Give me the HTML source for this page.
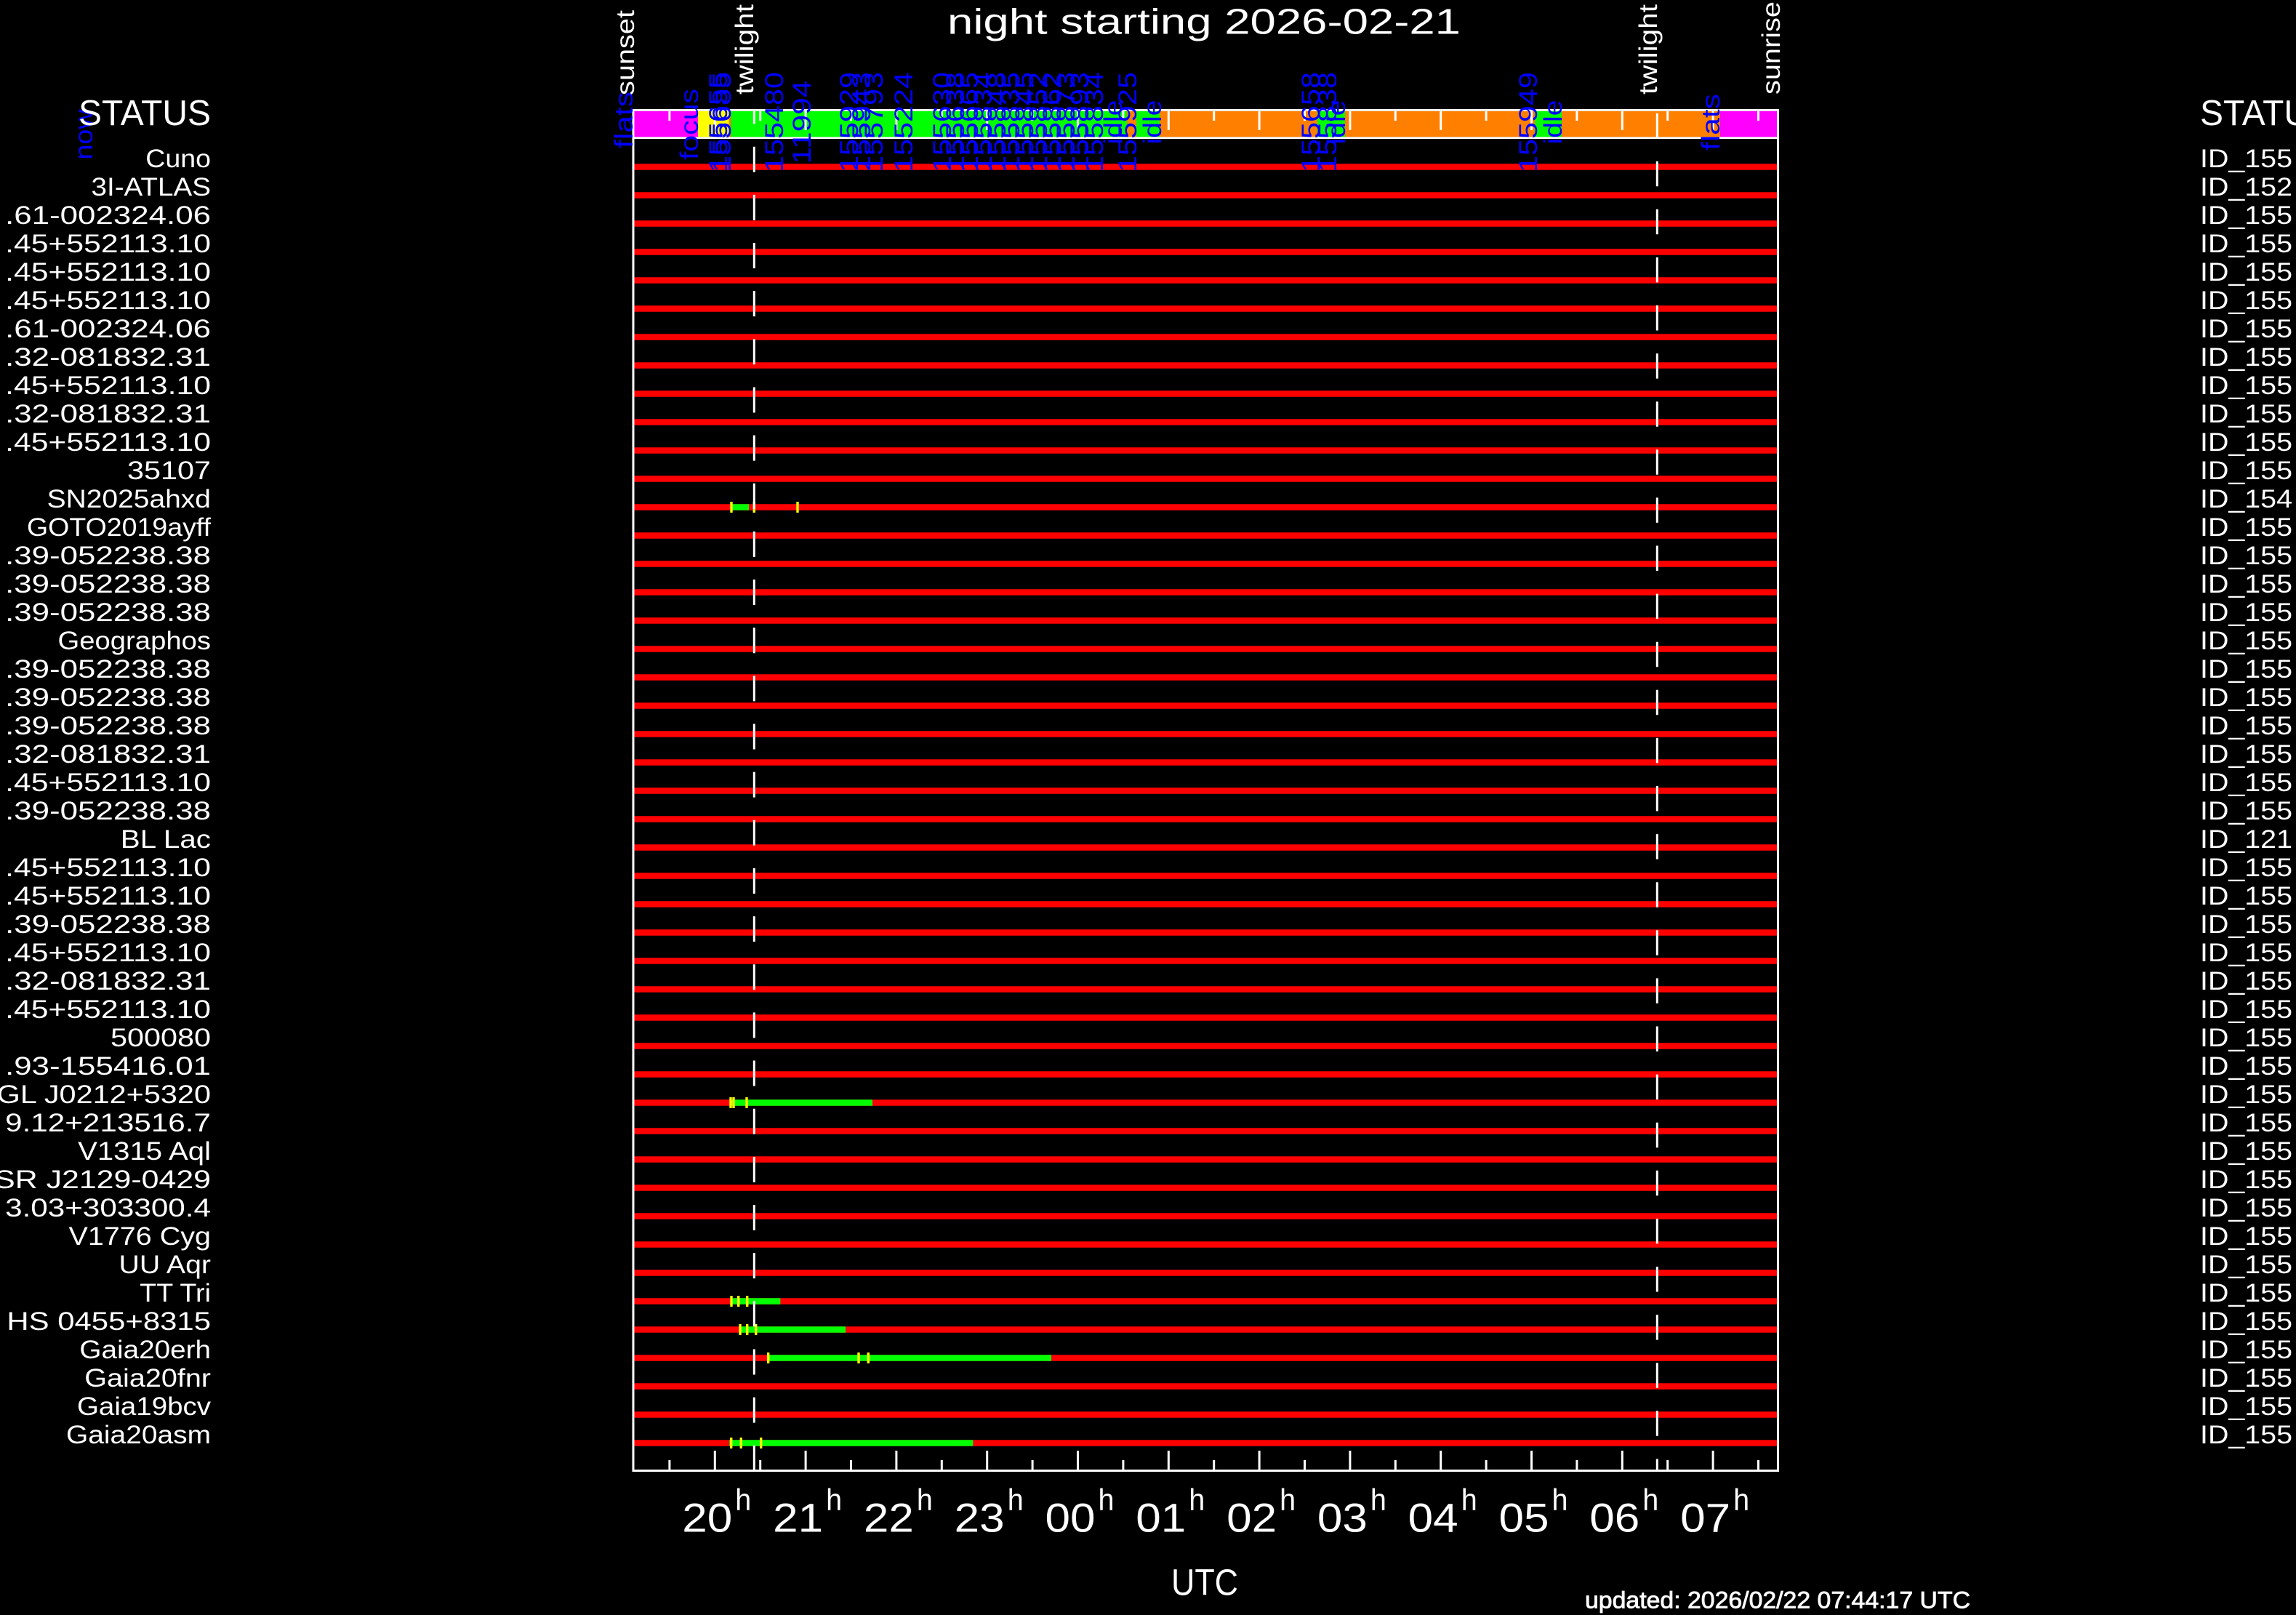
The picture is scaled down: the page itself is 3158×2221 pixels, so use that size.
<!DOCTYPE html>
<html><head><meta charset="utf-8"><style>
html,body{margin:0;padding:0;background:#000;}
svg{display:block;}
text{font-family:"Liberation Sans",sans-serif;}
</style></head><body>
<svg width="3158" height="2221" viewBox="0 0 3158 2221" xmlns="http://www.w3.org/2000/svg">
<defs>
<clipPath id="plot"><rect x="872" y="153" width="1572" height="1868"/></clipPath>
</defs>
<rect x="0" y="0" width="3158" height="2221" fill="#000"/>

<!-- status bar fills -->
<g>
<rect x="872" y="152.7" width="88" height="35.6" fill="#ff00ff"/>
<rect x="960" y="152.7" width="42.7" height="35.6" fill="#ffff00"/>
<rect x="1002.7" y="152.7" width="2.6" height="35.6" fill="#ff8000"/>
<rect x="1005.3" y="152.7" width="544.7" height="35.6" fill="#00ff00"/>
<rect x="1550" y="152.7" width="13" height="35.6" fill="#ff8000"/>
<rect x="1563" y="152.7" width="32" height="35.6" fill="#00ff00"/>
<rect x="1595" y="152.7" width="217" height="35.6" fill="#ff8000"/>
<rect x="1812" y="152.7" width="38" height="35.6" fill="#00ff00"/>
<rect x="1850" y="152.7" width="261" height="35.6" fill="#ff8000"/>
<rect x="2111" y="152.7" width="37" height="35.6" fill="#00ff00"/>
<rect x="2148" y="152.7" width="218" height="35.6" fill="#ff8000"/>
<rect x="2366" y="152.7" width="78" height="35.6" fill="#ff00ff"/>
</g>

<!-- red rows -->
<g fill="#ff0000">
<rect x="872" y="225.25" width="1572" height="8.5"/>
<rect x="872" y="264.25" width="1572" height="8.5"/>
<rect x="872" y="303.25" width="1572" height="8.5"/>
<rect x="872" y="342.25" width="1572" height="8.5"/>
<rect x="872" y="381.25" width="1572" height="8.5"/>
<rect x="872" y="420.25" width="1572" height="8.5"/>
<rect x="872" y="459.25" width="1572" height="8.5"/>
<rect x="872" y="498.25" width="1572" height="8.5"/>
<rect x="872" y="537.25" width="1572" height="8.5"/>
<rect x="872" y="576.25" width="1572" height="8.5"/>
<rect x="872" y="615.25" width="1572" height="8.5"/>
<rect x="872" y="654.25" width="1572" height="8.5"/>
<rect x="872" y="693.25" width="1572" height="8.5"/>
<rect x="872" y="732.25" width="1572" height="8.5"/>
<rect x="872" y="771.25" width="1572" height="8.5"/>
<rect x="872" y="810.25" width="1572" height="8.5"/>
<rect x="872" y="849.25" width="1572" height="8.5"/>
<rect x="872" y="888.25" width="1572" height="8.5"/>
<rect x="872" y="927.25" width="1572" height="8.5"/>
<rect x="872" y="966.25" width="1572" height="8.5"/>
<rect x="872" y="1005.25" width="1572" height="8.5"/>
<rect x="872" y="1044.25" width="1572" height="8.5"/>
<rect x="872" y="1083.25" width="1572" height="8.5"/>
<rect x="872" y="1122.25" width="1572" height="8.5"/>
<rect x="872" y="1161.25" width="1572" height="8.5"/>
<rect x="872" y="1200.25" width="1572" height="8.5"/>
<rect x="872" y="1239.25" width="1572" height="8.5"/>
<rect x="872" y="1278.25" width="1572" height="8.5"/>
<rect x="872" y="1317.25" width="1572" height="8.5"/>
<rect x="872" y="1356.25" width="1572" height="8.5"/>
<rect x="872" y="1395.25" width="1572" height="8.5"/>
<rect x="872" y="1434.25" width="1572" height="8.5"/>
<rect x="872" y="1473.25" width="1572" height="8.5"/>
<rect x="872" y="1512.25" width="1572" height="8.5"/>
<rect x="872" y="1551.25" width="1572" height="8.5"/>
<rect x="872" y="1590.25" width="1572" height="8.5"/>
<rect x="872" y="1629.25" width="1572" height="8.5"/>
<rect x="872" y="1668.25" width="1572" height="8.5"/>
<rect x="872" y="1707.25" width="1572" height="8.5"/>
<rect x="872" y="1746.25" width="1572" height="8.5"/>
<rect x="872" y="1785.25" width="1572" height="8.5"/>
<rect x="872" y="1824.25" width="1572" height="8.5"/>
<rect x="872" y="1863.25" width="1572" height="8.5"/>
<rect x="872" y="1902.25" width="1572" height="8.5"/>
<rect x="872" y="1941.25" width="1572" height="8.5"/>
<rect x="872" y="1980.25" width="1572" height="8.5"/>
</g>

<!-- green segments -->
<g fill="#00ff00">
<rect x="1006" y="693.25" width="24" height="8.5"/>
<rect x="1005" y="1512.25" width="195" height="8.5"/>
<rect x="1006" y="1785.25" width="67.3" height="8.5"/>
<rect x="1018" y="1824.25" width="145" height="8.5"/>
<rect x="1057" y="1863.25" width="389" height="8.5"/>
<rect x="1003.3" y="1980.25" width="335" height="8.5"/>
</g>
<!-- yellow ticks -->
<g fill="#ffff00">
<rect x="1004.3" y="690" width="3.4" height="15"/>
<rect x="1035.6" y="690" width="3.4" height="15"/>
<rect x="1095.3" y="690" width="3.4" height="15"/>
<rect x="1003.3" y="1509" width="3.4" height="15"/>
<rect x="1007.3" y="1509" width="3.4" height="15"/>
<rect x="1025.3" y="1509" width="3.4" height="15"/>
<rect x="1004.3" y="1782" width="3.4" height="15"/>
<rect x="1014" y="1782" width="3.4" height="15"/>
<rect x="1026" y="1782" width="3.4" height="15"/>
<rect x="1016.3" y="1821" width="3.4" height="15"/>
<rect x="1026" y="1821" width="3.4" height="15"/>
<rect x="1038" y="1821" width="3.4" height="15"/>
<rect x="1055" y="1860" width="3.4" height="15"/>
<rect x="1179.3" y="1860" width="3.4" height="15"/>
<rect x="1192.6" y="1860" width="3.4" height="15"/>
<rect x="1004" y="1977" width="3.4" height="15"/>
<rect x="1017.6" y="1977" width="3.4" height="15"/>
<rect x="1045" y="1977" width="3.4" height="15"/>
</g>

<!-- twilight dashed lines -->
<g clip-path="url(#plot)" stroke="#fff" stroke-width="3">
<line x1="1037.3" y1="135.55" x2="1037.3" y2="2030" stroke-dasharray="35 31.15"/>
<line x1="2279.3" y1="155.6" x2="2279.3" y2="2030" stroke-dasharray="34.5 31.6"/>
</g>

<!-- ticks -->
<g fill="#fff">
<!-- top -->
<rect x="919.4" y="153" width="3" height="13"/>
<rect x="981.8" y="153" width="3" height="26"/>
<rect x="1044.2" y="153" width="3" height="13"/>
<rect x="1106.6" y="153" width="3" height="26"/>
<rect x="1169" y="153" width="3" height="13"/>
<rect x="1231.4" y="153" width="3" height="26"/>
<rect x="1293.8" y="153" width="3" height="13"/>
<rect x="1356.2" y="153" width="3" height="26"/>
<rect x="1418.6" y="153" width="3" height="13"/>
<rect x="1481" y="153" width="3" height="26"/>
<rect x="1543.4" y="153" width="3" height="13"/>
<rect x="1605.8" y="153" width="3" height="26"/>
<rect x="1668.2" y="153" width="3" height="13"/>
<rect x="1730.6" y="153" width="3" height="26"/>
<rect x="1793" y="153" width="3" height="13"/>
<rect x="1855.4" y="153" width="3" height="26"/>
<rect x="1917.8" y="153" width="3" height="13"/>
<rect x="1980.2" y="153" width="3" height="26"/>
<rect x="2042.6" y="153" width="3" height="13"/>
<rect x="2105" y="153" width="3" height="26"/>
<rect x="2167.4" y="153" width="3" height="13"/>
<rect x="2229.8" y="153" width="3" height="26"/>
<rect x="2292.2" y="153" width="3" height="13"/>
<rect x="2354.6" y="153" width="3" height="26"/>
<rect x="2417" y="153" width="3" height="13"/>
<!-- bottom -->
<rect x="919.4" y="2008" width="3" height="13"/>
<rect x="981.8" y="1995" width="3" height="26"/>
<rect x="1044.2" y="2008" width="3" height="13"/>
<rect x="1106.6" y="1995" width="3" height="26"/>
<rect x="1169" y="2008" width="3" height="13"/>
<rect x="1231.4" y="1995" width="3" height="26"/>
<rect x="1293.8" y="2008" width="3" height="13"/>
<rect x="1356.2" y="1995" width="3" height="26"/>
<rect x="1418.6" y="2008" width="3" height="13"/>
<rect x="1481" y="1995" width="3" height="26"/>
<rect x="1543.4" y="2008" width="3" height="13"/>
<rect x="1605.8" y="1995" width="3" height="26"/>
<rect x="1668.2" y="2008" width="3" height="13"/>
<rect x="1730.6" y="1995" width="3" height="26"/>
<rect x="1793" y="2008" width="3" height="13"/>
<rect x="1855.4" y="1995" width="3" height="26"/>
<rect x="1917.8" y="2008" width="3" height="13"/>
<rect x="1980.2" y="1995" width="3" height="26"/>
<rect x="2042.6" y="2008" width="3" height="13"/>
<rect x="2105" y="1995" width="3" height="26"/>
<rect x="2167.4" y="2008" width="3" height="13"/>
<rect x="2229.8" y="1995" width="3" height="26"/>
<rect x="2292.2" y="2008" width="3" height="13"/>
<rect x="2354.6" y="1995" width="3" height="26"/>
<rect x="2417" y="2008" width="3" height="13"/>
</g>

<!-- frame -->
<g fill="#fff">
<rect x="869.5" y="150" width="3" height="1874"/>
<rect x="2444" y="150" width="3" height="1874"/>
<rect x="869.5" y="150" width="1577.5" height="2.8"/>
<rect x="869.5" y="188.3" width="1577.5" height="2.8"/>
<rect x="869.5" y="2021" width="1577.5" height="3"/>
</g>

<!-- blue job labels in status bar -->
<g fill="#0000ff" font-size="35" text-anchor="middle" lengthAdjust="spacingAndGlyphs">
<text transform="translate(870,165) rotate(-90)" textLength="78" lengthAdjust="spacingAndGlyphs">flats</text>
<text transform="translate(960,171) rotate(-90)" textLength="98" lengthAdjust="spacingAndGlyphs">focus</text>
<text transform="translate(1000,168) rotate(-90)" textLength="138" lengthAdjust="spacingAndGlyphs">155655</text>
<text transform="translate(1005,168) rotate(-90)" textLength="138" lengthAdjust="spacingAndGlyphs">155685</text>
<text transform="translate(1077,168) rotate(-90)" textLength="138" lengthAdjust="spacingAndGlyphs">155480</text>
<text transform="translate(1115,168) rotate(-90)" textLength="115" lengthAdjust="spacingAndGlyphs">11994</text>
<text transform="translate(1180,168) rotate(-90)" textLength="138" lengthAdjust="spacingAndGlyphs">155929</text>
<text transform="translate(1197,168) rotate(-90)" textLength="138" lengthAdjust="spacingAndGlyphs">155943</text>
<text transform="translate(1214,168) rotate(-90)" textLength="138" lengthAdjust="spacingAndGlyphs">155793</text>
<text transform="translate(1255,168) rotate(-90)" textLength="138" lengthAdjust="spacingAndGlyphs">155224</text>
<text transform="translate(1308,168) rotate(-90)" textLength="138" lengthAdjust="spacingAndGlyphs">155630</text>
<text transform="translate(1326,168) rotate(-90)" textLength="138" lengthAdjust="spacingAndGlyphs">155638</text>
<text transform="translate(1345,168) rotate(-90)" textLength="138" lengthAdjust="spacingAndGlyphs">155665</text>
<text transform="translate(1364,168) rotate(-90)" textLength="138" lengthAdjust="spacingAndGlyphs">155834</text>
<text transform="translate(1383,168) rotate(-90)" textLength="138" lengthAdjust="spacingAndGlyphs">155848</text>
<text transform="translate(1402,168) rotate(-90)" textLength="138" lengthAdjust="spacingAndGlyphs">155835</text>
<text transform="translate(1421,168) rotate(-90)" textLength="138" lengthAdjust="spacingAndGlyphs">155845</text>
<text transform="translate(1440,168) rotate(-90)" textLength="138" lengthAdjust="spacingAndGlyphs">155852</text>
<text transform="translate(1459,168) rotate(-90)" textLength="138" lengthAdjust="spacingAndGlyphs">155862</text>
<text transform="translate(1478,168) rotate(-90)" textLength="138" lengthAdjust="spacingAndGlyphs">155873</text>
<text transform="translate(1497,168) rotate(-90)" textLength="138" lengthAdjust="spacingAndGlyphs">155893</text>
<text transform="translate(1517,168) rotate(-90)" textLength="138" lengthAdjust="spacingAndGlyphs">155834</text>
<text transform="translate(1543,168) rotate(-90)" textLength="61" lengthAdjust="spacingAndGlyphs">idle</text>
<text transform="translate(1563,168) rotate(-90)" textLength="138" lengthAdjust="spacingAndGlyphs">155925</text>
<text transform="translate(1597,168) rotate(-90)" textLength="61" lengthAdjust="spacingAndGlyphs">idle</text>
<text transform="translate(1815,168) rotate(-90)" textLength="138" lengthAdjust="spacingAndGlyphs">155658</text>
<text transform="translate(1838,168) rotate(-90)" textLength="138" lengthAdjust="spacingAndGlyphs">155838</text>
<text transform="translate(1850,168) rotate(-90)" textLength="61" lengthAdjust="spacingAndGlyphs">idle</text>
<text transform="translate(2114,168) rotate(-90)" textLength="138" lengthAdjust="spacingAndGlyphs">155949</text>
<text transform="translate(2148,168) rotate(-90)" textLength="61" lengthAdjust="spacingAndGlyphs">idle</text>
<text transform="translate(2365,168) rotate(-90)" textLength="78" lengthAdjust="spacingAndGlyphs">flats</text>
<text transform="translate(127,185) rotate(-90)" textLength="69" lengthAdjust="spacingAndGlyphs">now</text>
</g>

<!-- white rotated event labels -->
<g fill="#fff" font-size="35">
<text transform="translate(872,131) rotate(-90)" textLength="117" lengthAdjust="spacingAndGlyphs">sunset</text>
<text transform="translate(1036,130) rotate(-90)" textLength="124" lengthAdjust="spacingAndGlyphs">twilight</text>
<text transform="translate(2279,130) rotate(-90)" textLength="124" lengthAdjust="spacingAndGlyphs">twilight</text>
<text transform="translate(2448,130) rotate(-90)" textLength="128" lengthAdjust="spacingAndGlyphs">sunrise</text>
</g>

<!-- title and headers -->
<g fill="#fff">
<text x="1303" y="46.7" font-size="49" textLength="706" lengthAdjust="spacingAndGlyphs">night starting 2026-02-21</text>
<text x="108" y="172" font-size="49" textLength="182" lengthAdjust="spacingAndGlyphs">STATUS</text>
<text x="3026" y="172" font-size="49" textLength="182" lengthAdjust="spacingAndGlyphs">STATUS</text>
</g>

<!-- left row labels -->
<g fill="#fff" font-size="35">
<text x="200.3" y="230" textLength="89.7" lengthAdjust="spacingAndGlyphs">Cuno</text>
<text x="125.5" y="269" textLength="164.5" lengthAdjust="spacingAndGlyphs">3I-ATLAS</text>
<text x="7.1" y="308" textLength="282.9" lengthAdjust="spacingAndGlyphs">.61-002324.06</text>
<text x="7.1" y="347" textLength="282.9" lengthAdjust="spacingAndGlyphs">.45+552113.10</text>
<text x="7.1" y="386" textLength="282.9" lengthAdjust="spacingAndGlyphs">.45+552113.10</text>
<text x="7.1" y="425" textLength="282.9" lengthAdjust="spacingAndGlyphs">.45+552113.10</text>
<text x="7.1" y="464" textLength="282.9" lengthAdjust="spacingAndGlyphs">.61-002324.06</text>
<text x="7.1" y="503" textLength="282.9" lengthAdjust="spacingAndGlyphs">.32-081832.31</text>
<text x="7.1" y="542" textLength="282.9" lengthAdjust="spacingAndGlyphs">.45+552113.10</text>
<text x="7.1" y="581" textLength="282.9" lengthAdjust="spacingAndGlyphs">.32-081832.31</text>
<text x="7.1" y="620" textLength="282.9" lengthAdjust="spacingAndGlyphs">.45+552113.10</text>
<text x="175" y="659" textLength="115" lengthAdjust="spacingAndGlyphs">35107</text>
<text x="64.6" y="698" textLength="225.4" lengthAdjust="spacingAndGlyphs">SN2025ahxd</text>
<text x="37" y="737" textLength="253" lengthAdjust="spacingAndGlyphs">GOTO2019ayff</text>
<text x="7.1" y="776" textLength="282.9" lengthAdjust="spacingAndGlyphs">.39-052238.38</text>
<text x="7.1" y="815" textLength="282.9" lengthAdjust="spacingAndGlyphs">.39-052238.38</text>
<text x="7.1" y="854" textLength="282.9" lengthAdjust="spacingAndGlyphs">.39-052238.38</text>
<text x="79.5" y="893" textLength="210.5" lengthAdjust="spacingAndGlyphs">Geographos</text>
<text x="7.1" y="932" textLength="282.9" lengthAdjust="spacingAndGlyphs">.39-052238.38</text>
<text x="7.1" y="971" textLength="282.9" lengthAdjust="spacingAndGlyphs">.39-052238.38</text>
<text x="7.1" y="1010" textLength="282.9" lengthAdjust="spacingAndGlyphs">.39-052238.38</text>
<text x="7.1" y="1049" textLength="282.9" lengthAdjust="spacingAndGlyphs">.32-081832.31</text>
<text x="7.1" y="1088" textLength="282.9" lengthAdjust="spacingAndGlyphs">.45+552113.10</text>
<text x="7.1" y="1127" textLength="282.9" lengthAdjust="spacingAndGlyphs">.39-052238.38</text>
<text x="165.8" y="1166" textLength="124.2" lengthAdjust="spacingAndGlyphs">BL Lac</text>
<text x="7.1" y="1205" textLength="282.9" lengthAdjust="spacingAndGlyphs">.45+552113.10</text>
<text x="7.1" y="1244" textLength="282.9" lengthAdjust="spacingAndGlyphs">.45+552113.10</text>
<text x="7.1" y="1283" textLength="282.9" lengthAdjust="spacingAndGlyphs">.39-052238.38</text>
<text x="7.1" y="1322" textLength="282.9" lengthAdjust="spacingAndGlyphs">.45+552113.10</text>
<text x="7.1" y="1361" textLength="282.9" lengthAdjust="spacingAndGlyphs">.32-081832.31</text>
<text x="7.1" y="1400" textLength="282.9" lengthAdjust="spacingAndGlyphs">.45+552113.10</text>
<text x="152" y="1439" textLength="138" lengthAdjust="spacingAndGlyphs">500080</text>
<text x="7.1" y="1478" textLength="282.9" lengthAdjust="spacingAndGlyphs">.93-155416.01</text>
<text x="-4.4" y="1517" textLength="294.4" lengthAdjust="spacingAndGlyphs">GL J0212+5320</text>
<text x="7.1" y="1556" textLength="282.9" lengthAdjust="spacingAndGlyphs">9.12+213516.7</text>
<text x="107.1" y="1595" textLength="182.9" lengthAdjust="spacingAndGlyphs">V1315 Aql</text>
<text x="-7.9" y="1634" textLength="297.9" lengthAdjust="spacingAndGlyphs">SR J2129-0429</text>
<text x="7.1" y="1673" textLength="282.9" lengthAdjust="spacingAndGlyphs">3.03+303300.4</text>
<text x="94.5" y="1712" textLength="195.5" lengthAdjust="spacingAndGlyphs">V1776 Cyg</text>
<text x="163.5" y="1751" textLength="126.5" lengthAdjust="spacingAndGlyphs">UU Aqr</text>
<text x="192.2" y="1790" textLength="97.8" lengthAdjust="spacingAndGlyphs">TT Tri</text>
<text x="9.4" y="1829" textLength="280.6" lengthAdjust="spacingAndGlyphs">HS 0455+8315</text>
<text x="109.4" y="1868" textLength="180.6" lengthAdjust="spacingAndGlyphs">Gaia20erh</text>
<text x="116.3" y="1907" textLength="173.7" lengthAdjust="spacingAndGlyphs">Gaia20fnr</text>
<text x="106" y="1946" textLength="184" lengthAdjust="spacingAndGlyphs">Gaia19bcv</text>
<text x="91" y="1985" textLength="199" lengthAdjust="spacingAndGlyphs">Gaia20asm</text>
</g>

<!-- right ID labels -->
<g fill="#fff" font-size="35">
<text x="3026" y="230" textLength="127" lengthAdjust="spacingAndGlyphs">ID_155</text>
<text x="3026" y="269" textLength="127" lengthAdjust="spacingAndGlyphs">ID_152</text>
<text x="3026" y="308" textLength="127" lengthAdjust="spacingAndGlyphs">ID_155</text>
<text x="3026" y="347" textLength="127" lengthAdjust="spacingAndGlyphs">ID_155</text>
<text x="3026" y="386" textLength="127" lengthAdjust="spacingAndGlyphs">ID_155</text>
<text x="3026" y="425" textLength="127" lengthAdjust="spacingAndGlyphs">ID_155</text>
<text x="3026" y="464" textLength="127" lengthAdjust="spacingAndGlyphs">ID_155</text>
<text x="3026" y="503" textLength="127" lengthAdjust="spacingAndGlyphs">ID_155</text>
<text x="3026" y="542" textLength="127" lengthAdjust="spacingAndGlyphs">ID_155</text>
<text x="3026" y="581" textLength="127" lengthAdjust="spacingAndGlyphs">ID_155</text>
<text x="3026" y="620" textLength="127" lengthAdjust="spacingAndGlyphs">ID_155</text>
<text x="3026" y="659" textLength="127" lengthAdjust="spacingAndGlyphs">ID_155</text>
<text x="3026" y="698" textLength="127" lengthAdjust="spacingAndGlyphs">ID_154</text>
<text x="3026" y="737" textLength="127" lengthAdjust="spacingAndGlyphs">ID_155</text>
<text x="3026" y="776" textLength="127" lengthAdjust="spacingAndGlyphs">ID_155</text>
<text x="3026" y="815" textLength="127" lengthAdjust="spacingAndGlyphs">ID_155</text>
<text x="3026" y="854" textLength="127" lengthAdjust="spacingAndGlyphs">ID_155</text>
<text x="3026" y="893" textLength="127" lengthAdjust="spacingAndGlyphs">ID_155</text>
<text x="3026" y="932" textLength="127" lengthAdjust="spacingAndGlyphs">ID_155</text>
<text x="3026" y="971" textLength="127" lengthAdjust="spacingAndGlyphs">ID_155</text>
<text x="3026" y="1010" textLength="127" lengthAdjust="spacingAndGlyphs">ID_155</text>
<text x="3026" y="1049" textLength="127" lengthAdjust="spacingAndGlyphs">ID_155</text>
<text x="3026" y="1088" textLength="127" lengthAdjust="spacingAndGlyphs">ID_155</text>
<text x="3026" y="1127" textLength="127" lengthAdjust="spacingAndGlyphs">ID_155</text>
<text x="3026" y="1166" textLength="127" lengthAdjust="spacingAndGlyphs">ID_121</text>
<text x="3026" y="1205" textLength="127" lengthAdjust="spacingAndGlyphs">ID_155</text>
<text x="3026" y="1244" textLength="127" lengthAdjust="spacingAndGlyphs">ID_155</text>
<text x="3026" y="1283" textLength="127" lengthAdjust="spacingAndGlyphs">ID_155</text>
<text x="3026" y="1322" textLength="127" lengthAdjust="spacingAndGlyphs">ID_155</text>
<text x="3026" y="1361" textLength="127" lengthAdjust="spacingAndGlyphs">ID_155</text>
<text x="3026" y="1400" textLength="127" lengthAdjust="spacingAndGlyphs">ID_155</text>
<text x="3026" y="1439" textLength="127" lengthAdjust="spacingAndGlyphs">ID_155</text>
<text x="3026" y="1478" textLength="127" lengthAdjust="spacingAndGlyphs">ID_155</text>
<text x="3026" y="1517" textLength="127" lengthAdjust="spacingAndGlyphs">ID_155</text>
<text x="3026" y="1556" textLength="127" lengthAdjust="spacingAndGlyphs">ID_155</text>
<text x="3026" y="1595" textLength="127" lengthAdjust="spacingAndGlyphs">ID_155</text>
<text x="3026" y="1634" textLength="127" lengthAdjust="spacingAndGlyphs">ID_155</text>
<text x="3026" y="1673" textLength="127" lengthAdjust="spacingAndGlyphs">ID_155</text>
<text x="3026" y="1712" textLength="127" lengthAdjust="spacingAndGlyphs">ID_155</text>
<text x="3026" y="1751" textLength="127" lengthAdjust="spacingAndGlyphs">ID_155</text>
<text x="3026" y="1790" textLength="127" lengthAdjust="spacingAndGlyphs">ID_155</text>
<text x="3026" y="1829" textLength="127" lengthAdjust="spacingAndGlyphs">ID_155</text>
<text x="3026" y="1868" textLength="127" lengthAdjust="spacingAndGlyphs">ID_155</text>
<text x="3026" y="1907" textLength="127" lengthAdjust="spacingAndGlyphs">ID_155</text>
<text x="3026" y="1946" textLength="127" lengthAdjust="spacingAndGlyphs">ID_155</text>
<text x="3026" y="1985" textLength="127" lengthAdjust="spacingAndGlyphs">ID_155</text>
</g>

<!-- hour labels -->
<g fill="#fff">
<g font-size="56">
<text x="938.3" y="2106.5" textLength="69" lengthAdjust="spacingAndGlyphs">20</text>
<text x="1063.1" y="2106.5" textLength="69" lengthAdjust="spacingAndGlyphs">21</text>
<text x="1187.9" y="2106.5" textLength="69" lengthAdjust="spacingAndGlyphs">22</text>
<text x="1312.7" y="2106.5" textLength="69" lengthAdjust="spacingAndGlyphs">23</text>
<text x="1437.5" y="2106.5" textLength="69" lengthAdjust="spacingAndGlyphs">00</text>
<text x="1562.3" y="2106.5" textLength="69" lengthAdjust="spacingAndGlyphs">01</text>
<text x="1687.1" y="2106.5" textLength="69" lengthAdjust="spacingAndGlyphs">02</text>
<text x="1811.9" y="2106.5" textLength="69" lengthAdjust="spacingAndGlyphs">03</text>
<text x="1936.7" y="2106.5" textLength="69" lengthAdjust="spacingAndGlyphs">04</text>
<text x="2061.5" y="2106.5" textLength="69" lengthAdjust="spacingAndGlyphs">05</text>
<text x="2186.3" y="2106.5" textLength="69" lengthAdjust="spacingAndGlyphs">06</text>
<text x="2311.1" y="2106.5" textLength="69" lengthAdjust="spacingAndGlyphs">07</text>
</g>
<g font-size="42">
<text x="1011.3" y="2077" textLength="22" lengthAdjust="spacingAndGlyphs">h</text>
<text x="1136.1" y="2077" textLength="22" lengthAdjust="spacingAndGlyphs">h</text>
<text x="1260.9" y="2077" textLength="22" lengthAdjust="spacingAndGlyphs">h</text>
<text x="1385.7" y="2077" textLength="22" lengthAdjust="spacingAndGlyphs">h</text>
<text x="1510.5" y="2077" textLength="22" lengthAdjust="spacingAndGlyphs">h</text>
<text x="1635.3" y="2077" textLength="22" lengthAdjust="spacingAndGlyphs">h</text>
<text x="1760.1" y="2077" textLength="22" lengthAdjust="spacingAndGlyphs">h</text>
<text x="1884.9" y="2077" textLength="22" lengthAdjust="spacingAndGlyphs">h</text>
<text x="2009.7" y="2077" textLength="22" lengthAdjust="spacingAndGlyphs">h</text>
<text x="2134.5" y="2077" textLength="22" lengthAdjust="spacingAndGlyphs">h</text>
<text x="2259.3" y="2077" textLength="22" lengthAdjust="spacingAndGlyphs">h</text>
<text x="2384.1" y="2077" textLength="22" lengthAdjust="spacingAndGlyphs">h</text>
</g>
<text x="1611" y="2193.3" font-size="51" textLength="92" lengthAdjust="spacingAndGlyphs">UTC</text>
<text x="2180" y="2211.7" font-size="32" stroke="#fff" stroke-width="0.8" textLength="530" lengthAdjust="spacingAndGlyphs">updated: 2026/02/22 07:44:17 UTC</text>
</g>
</svg>
</body></html>
